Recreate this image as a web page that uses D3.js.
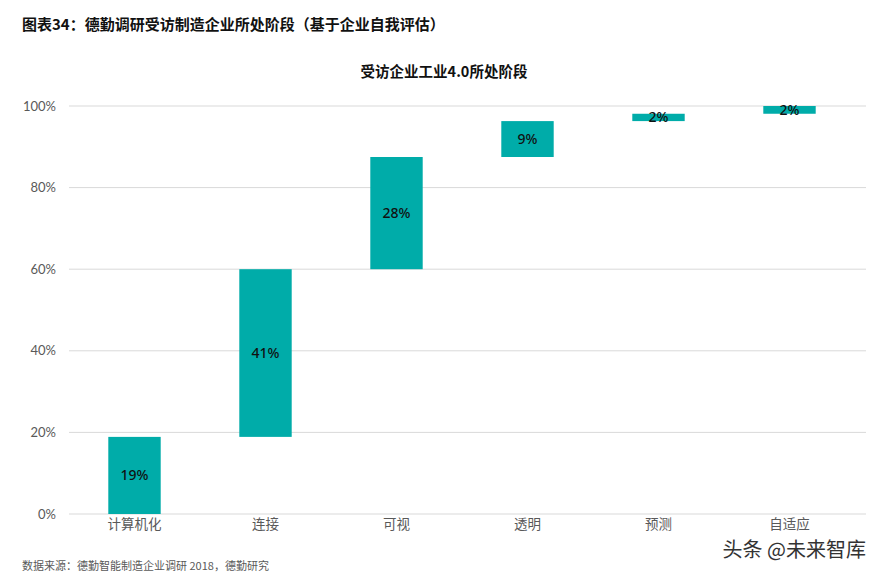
<!DOCTYPE html>
<html><head><meta charset="utf-8">
<script src="https://cdn.jsdelivr.net/npm/d3@7/dist/d3.min.js"></script>
<style>body{margin:0;background:#fff;} svg{display:block;}</style>
</head><body>
<svg id="chart" width="881" height="575"></svg>
<script>
const categories = ["计算机化", "连接", "可视", "透明", "预测", "自适应"];
const values = [18.9, 41.1, 27.5, 8.8, 1.8, 1.9];
const yTicks = [0, 20, 40, 60, 80, 100];
const title = "图表34：德勤调研受访制造企业所处阶段（基于企业自我评估）";
const subtitle = "受访企业工业4.0所处阶段";
const source = "数据来源：德勤智能制造企业调研 2018，德勤研究";
const watermark = "头条 @未来智库";

const svg = d3.select("#chart");
const font = "Lato, 'Noto Sans CJK SC', sans-serif";
const cjk = "'Noto Sans CJK SC', 'Noto Sans', sans-serif";

let cum = 0;
const data = categories.map((c, i) => { const d = {c, v: values[i], start: cum}; cum += values[i]; d.end = cum; return d; });

const x = d3.scaleBand().domain(categories).range([69, 855]).paddingInner(0.6).paddingOuter(0.3);
const y = d3.scaleLinear().domain([0, 100]).range([514, 106]);

// gridlines
svg.append("g").selectAll("line").data(yTicks).join("line")
  .attr("x1", 69).attr("x2", 866)
  .attr("y1", d => y(d)).attr("y2", d => y(d))
  .attr("stroke", "#d9d9d9").attr("stroke-width", 1);

// y axis labels
const yAxis = d3.axisLeft(y).tickValues(yTicks).tickFormat(d => d + "%").tickSize(0).tickPadding(0);
const ya = svg.append("g").attr("transform", "translate(56,0)").call(yAxis);
ya.select(".domain").remove();
ya.selectAll("text").attr("font-family", font).attr("font-size", 13).attr("fill", "#595959");

// x axis labels
const xAxis = d3.axisBottom(x).tickSize(0).tickPadding(0);
const xa = svg.append("g").attr("transform", "translate(0,519)").call(xAxis);
xa.select(".domain").remove();
xa.selectAll("text").attr("font-family", cjk).attr("font-size", 13.5).attr("fill", "#595959").attr("dy", "0.71em");

// bars
svg.append("g").selectAll("rect").data(data).join("rect")
  .attr("x", d => x(d.c)).attr("width", x.bandwidth())
  .attr("y", d => y(d.end)).attr("height", d => y(d.start) - y(d.end))
  .attr("fill", "#00aca9");

// bar labels
svg.append("g").selectAll("text").data(data).join("text")
  .attr("x", d => x(d.c) + x.bandwidth() / 2)
  .attr("y", d => (y(d.start) + y(d.end)) / 2)
  .attr("dy", "0.35em").attr("text-anchor", "middle")
  .attr("font-family", "'Noto Sans', sans-serif").attr("font-size", 14).attr("font-weight", 500)
  .attr("fill", "#111")
  .text(d => Math.round(d.v) + "%");

// title
svg.append("text").attr("x", 22).attr("y", 30).attr("font-family", cjk).attr("font-size", 15)
  .attr("font-weight", "bold").attr("fill", "#111").text(title);

svg.append("text").attr("x", 444).attr("y", 77).attr("text-anchor", "middle").attr("font-family", cjk)
  .attr("font-size", 14.5).attr("font-weight", "bold").attr("fill", "#111").text(subtitle);

svg.append("text").attr("x", 22).attr("y", 570).attr("font-family", cjk).attr("font-size", 11)
  .attr("fill", "#595959").text(source);

svg.append("text").attr("x", 866).attr("y", 557).attr("text-anchor", "end").attr("font-family", cjk)
  .attr("font-size", 20).attr("fill", "#333").attr("stroke", "#fff").attr("stroke-width", 3)
  .attr("paint-order", "stroke").text(watermark);
</script>
</body></html>
